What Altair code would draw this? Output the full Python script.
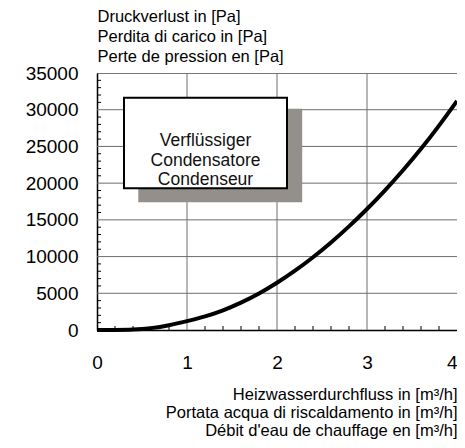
import altair as alt
import pandas as pd

# ---- data ----
flow = [0.0, 0.2, 0.4, 0.6, 0.8, 1.0, 1.2, 1.4, 1.6, 1.8, 2.0,
        2.2, 2.4, 2.6, 2.8, 3.0, 3.2, 3.4, 3.6, 3.8, 4.0]
pressure = [0, 0, 30, 220, 620, 1200, 1820, 2650, 3690, 4940, 6400,
            8050, 9880, 11890, 14080, 16450, 19000, 21730, 24640, 27800, 31200]

x_major = [0, 1, 2, 3, 4]
y_major = [0, 5000, 10000, 15000, 20000, 25000, 30000, 35000]
x_grid = [1, 2, 3]
y_grid = [5000, 10000, 15000, 20000, 25000, 30000]
x_minor = [0.2, 0.4, 0.6, 0.8, 1.2, 1.4, 1.6, 1.8, 2.2, 2.4, 2.6, 2.8,
           3.2, 3.4, 3.6, 3.8]
y_minor = [1000, 2000, 3000, 4000, 6000, 7000, 8000, 9000, 11000, 12000,
           13000, 14000, 16000, 17000, 18000, 19000, 21000, 22000, 23000,
           24000, 26000, 27000, 28000, 29000, 31000, 32000, 33000, 34000]

y_title = ["Druckverlust in [Pa]", "Perdita di carico in [Pa]", "Perte de pression en [Pa]"]
x_title = ["Heizwasserdurchfluss in [m³/h]", "Portata acqua di riscaldamento in [m³/h]",
           "Débit d'eau de chauffage en [m³/h]"]
box_lines = ["Verflüssiger", "Condensatore", "Condenseur"]

FONT = "Liberation Sans"
W, H = 360, 257

curve_df = pd.DataFrame({"flow": flow, "pressure": pressure})
xminor_df = pd.DataFrame({"flow": x_minor})
yminor_df = pd.DataFrame({"pressure": y_minor})
xgrid_df = pd.DataFrame({"flow": x_grid})
ygrid_df = pd.DataFrame({"pressure": y_grid})
one = pd.DataFrame({"label": ["box"]})

xscale = alt.Scale(domain=[0, 4], nice=False)
yscale = alt.Scale(domain=[0, 35000], nice=False)

xaxis = alt.Axis(values=x_major, title=x_title, grid=False, ticks=False, format="d",
                 labelPadding=23, labelFontSize=19, labelFont=FONT,
                 labelOverlap=False, labelFlush=False,
                 labelAlign=alt.condition("datum.value >= 4", alt.value("right"), alt.value("center")),
                 titleFont=FONT, titleFontSize=16.5, titleFontWeight="normal",
                 titleLineHeight=18, titleAlign="right", titleAnchor="end",
                 titleX=W, titleY=69, titleBaseline="alphabetic",
                 domainColor="black", domainWidth=1.5, labelColor="black",
                 titleColor="black")
yaxis = alt.Axis(values=y_major, title=y_title, grid=False, ticks=False, format="d",
                 labelPadding=19, labelFontSize=19, labelFont=FONT,
                 labelOverlap=False, labelFlush=False,
                 titleFont=FONT, titleFontSize=16.5, titleFontWeight="normal",
                 titleLineHeight=20, titleAngle=0, titleAlign="left",
                 titleX=0, titleY=-52, titleBaseline="alphabetic",
                 domainColor="black", domainWidth=1.5, labelColor="black",
                 titleColor="black")

xgrid = alt.Chart(xgrid_df).mark_rule(color="#6e6e6e", strokeWidth=1).encode(
    x=alt.X("flow:Q", scale=xscale, axis=xaxis), y=alt.value(0), y2=alt.value(H)
)
ygrid = alt.Chart(ygrid_df).mark_rule(color="#6e6e6e", strokeWidth=1).encode(
    y=alt.Y("pressure:Q", scale=yscale, axis=yaxis), x=alt.value(0), x2=alt.value(W)
)
xticks = alt.Chart(xminor_df).mark_rule(color="black", strokeWidth=1).encode(
    x=alt.X("flow:Q", scale=xscale, axis=xaxis), y=alt.value(H), y2=alt.value(H - 4)
)
yticks = alt.Chart(yminor_df).mark_rule(color="black", strokeWidth=1).encode(
    y=alt.Y("pressure:Q", scale=yscale, axis=yaxis), x=alt.value(0), x2=alt.value(4)
)

shadow = alt.Chart(one).mark_rect(color="#938f8a").encode(
    x=alt.value(41.3), x2=alt.value(205.2), y=alt.value(35.8), y2=alt.value(129.3)
)
box = alt.Chart(one).mark_rect(fill="white", stroke="black", strokeWidth=2).encode(
    x=alt.value(27), x2=alt.value(190), y=alt.value(24.8), y2=alt.value(115.3)
)
box_text = alt.Chart(one).mark_text(
    text=box_lines, font=FONT, fontSize=17.5, lineHeight=19.7,
    align="center", baseline="middle", color="#111111"
).encode(x=alt.value(108.5), y=alt.value(68))

curve = alt.Chart(curve_df).mark_line(
    color="black", strokeWidth=4, interpolate="basis", strokeCap="butt"
).encode(
    x=alt.X("flow:Q", scale=xscale, axis=xaxis),
    y=alt.Y("pressure:Q", scale=yscale, axis=yaxis),
)

chart = alt.layer(xgrid, ygrid, xticks, yticks, shadow, box, box_text, curve).properties(
    width=W, height=H,
    autosize=alt.AutoSizeParams(type="none"),
    padding={"left": 89, "top": 65, "right": 0, "bottom": 109},
    background="white",
).configure_view(stroke="#777777", strokeWidth=1)

chart.save("out.html", embed_options={"renderer": "svg", "actions": False})
